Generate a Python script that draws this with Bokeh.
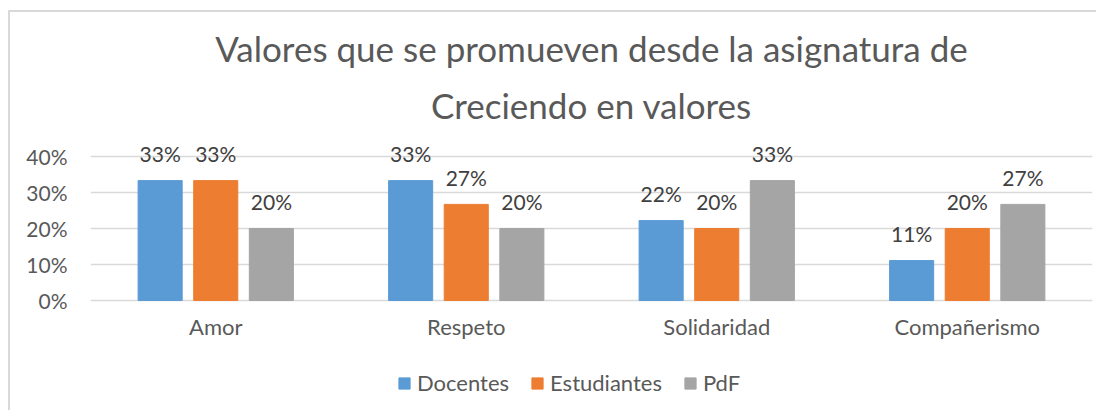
from bokeh.plotting import figure
from bokeh.models import (ColumnDataSource, FactorRange, Range1d, FixedTicker,
                          NumeralTickFormatter, Title, Legend, LegendItem)
from bokeh.transform import dodge
from bokeh.core.properties import value
from bokeh.embed import file_html
from bokeh.resources import INLINE

categories = ["Amor", "Respeto", "Solidaridad", "Compañerismo"]
series = ["Docentes", "Estudiantes", "PdF"]
docentes = [0.333, 0.333, 0.222, 0.111]
estudiantes = [0.333, 0.267, 0.200, 0.200]
pdf = [0.200, 0.200, 0.333, 0.267]
y_ticks = [0, 0.1, 0.2, 0.3, 0.4]
colors = ["#5B9BD5", "#ED7D31", "#A5A5A5"]

FONT = "Lato"
TXT = "#595959"

data = {"cat": categories, "Docentes": docentes, "Estudiantes": estudiantes, "PdF": pdf}
for s in series:
    data[s + "_lbl"] = [f"{round(v * 100)}%" for v in data[s]]
data["cat_y"] = [-26 / 360] * len(categories)
source = ColumnDataSource(data)

p = figure(width=1088, height=400, x_range=FactorRange(factors=categories),
           y_range=Range1d(-112 / 360, 0.45), output_backend="svg", toolbar_location=None,
           min_border_left=80, min_border_right=6, min_border_top=126,
           min_border_bottom=0, outline_line_color=None)
p.title = None
p.styles = {"border-left": "2px solid #D9D9D9", "border-top": "2px solid #D9D9D9",
            "margin-top": "10px", "margin-left": "8px"}

p.add_layout(Title(text="Creciendo en valores", align="center", text_font=FONT,
                   text_font_size="35px", text_color=TXT, text_font_style="normal",
                   standoff=26), "above")
p.add_layout(Title(text="Valores que se promueven desde la asignatura de", align="center",
                   text_font=FONT, text_font_size="35px", text_color=TXT,
                   text_font_style="normal", standoff=0, text_line_height=0.85), "above")

offsets = [-0.222, 0.0, 0.222]
items = []
for s, c, off in zip(series, colors, offsets):
    r = p.vbar(x=dodge("cat", off, range=p.x_range), top=s, width=0.176, source=source,
               fill_color=c, line_color=c)
    items.append(LegendItem(label=s, renderers=[r]))
    p.text(x=dodge("cat", off, range=p.x_range), y=s, text=s + "_lbl", source=source,
           text_font=value(FONT), text_font_size="21px", text_color="#404040",
           text_align="center", text_baseline="alphabetic", y_offset=-27)

# category labels under the bars
p.text(x="cat", y="cat_y", text="cat", source=source, text_font=value(FONT),
       text_font_size="22px", text_color=TXT, text_align="center", text_baseline="middle")

p.xaxis.visible = False
p.yaxis.ticker = FixedTicker(ticks=y_ticks)
p.yaxis.formatter = NumeralTickFormatter(format="0%")
p.ygrid.ticker = FixedTicker(ticks=y_ticks)
p.ygrid.grid_line_color = "#D9D9D9"
p.ygrid.grid_line_width = 1.5
p.xgrid.grid_line_color = None

p.yaxis.axis_line_color = None
p.yaxis.major_tick_line_color = None
p.yaxis.minor_tick_line_color = None
p.yaxis.major_label_text_font = FONT
p.yaxis.major_label_text_font_size = "21px"
p.yaxis.major_label_text_color = TXT
p.yaxis.major_label_standoff = 17

legend = Legend(items=items, orientation="horizontal", location=(307, 16),
                glyph_width=14, glyph_height=14, label_standoff=6, spacing=21,
                padding=0, margin=0, border_line_color=None, background_fill_alpha=0,
                label_text_font=FONT, label_text_font_size="22px", label_text_color=TXT)
p.add_layout(legend, "center")

open("out.html", "w").write(file_html(p, INLINE))
